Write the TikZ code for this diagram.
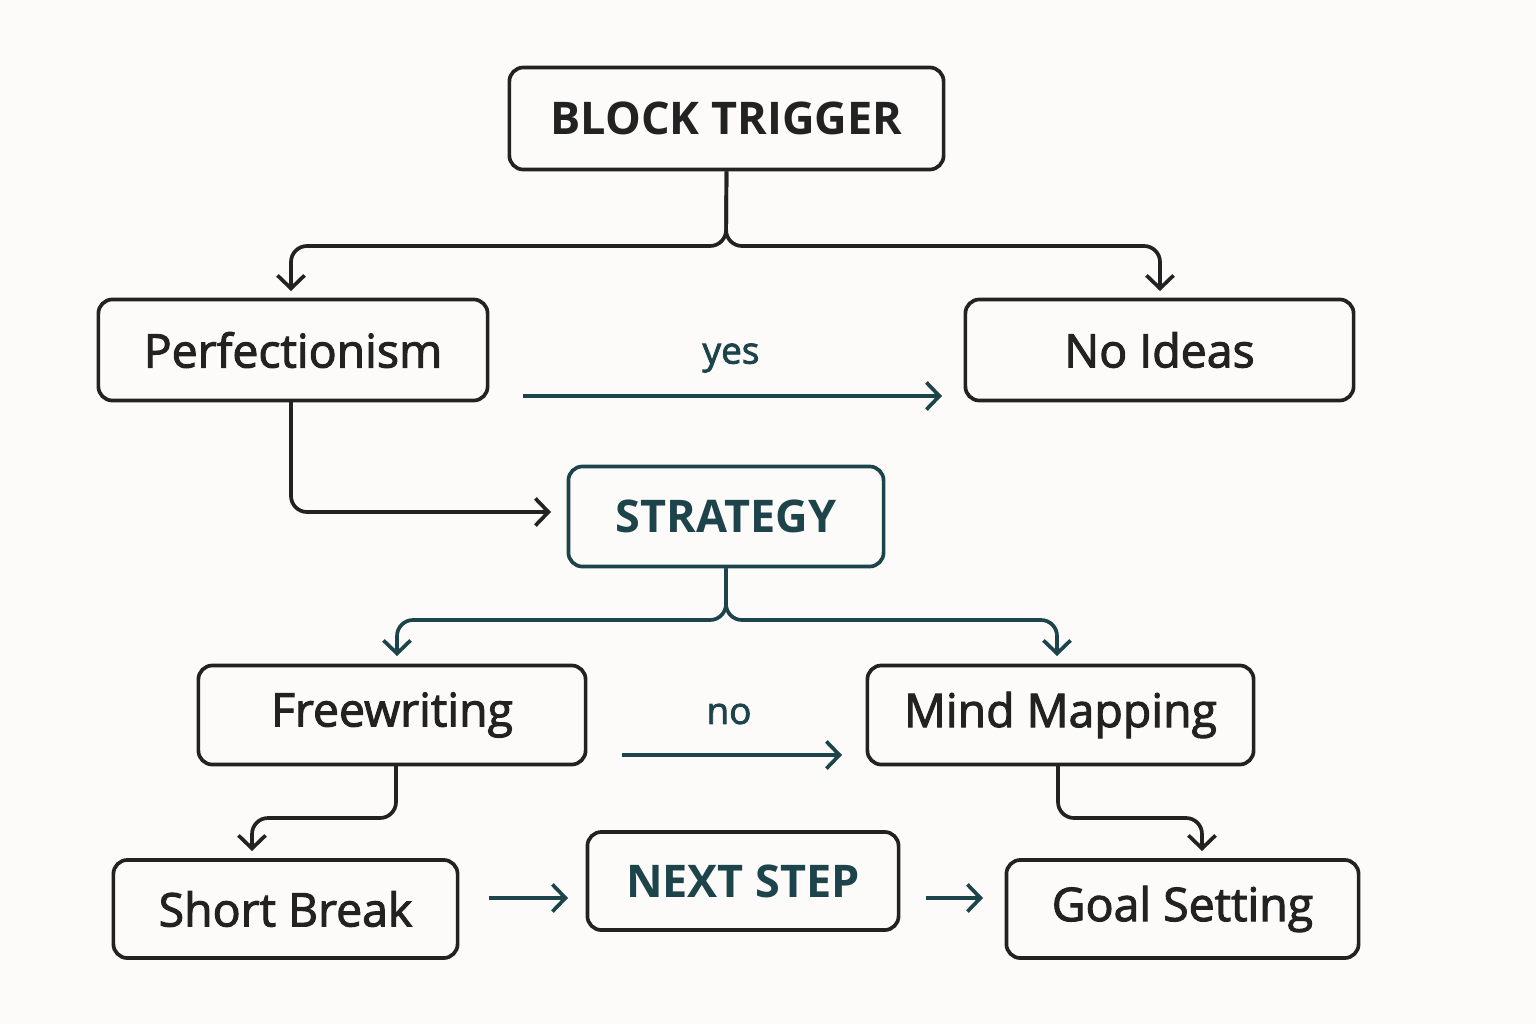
\documentclass[tikz,border=0pt]{standalone}
\usepackage{fontspec}
\setmainfont{Open Sans}
\newfontfamily\medfont{Open Sans}[FakeBold=2.2]
\usetikzlibrary{arrows.meta}
\definecolor{bg}{HTML}{FCFBF9}
\definecolor{ink}{HTML}{222222}
\definecolor{teal}{HTML}{1D434B}
\tikzset{
  box/.style={draw=ink, line width=1.05pt, rounded corners=0.14cm, fill=bg, inner sep=0pt, text=ink, font=\medfont\fontsize{13.2}{15}\selectfont},
  headbox/.style={box, font=\fontsize{12.8}{15}\selectfont\bfseries},
  conn/.style={draw=ink, line width=1.05pt, rounded corners=0.16cm, -{Straight Barb[length=0.13cm, width=0.27cm, line width=1.05pt]}},
  tconn/.style={conn, draw=teal},
  lbl/.style={text=teal, font=\medfont\fontsize{10.5}{12}\selectfont}
}
\begin{document}
\begin{tikzpicture}[x=0.01cm, y=-0.01cm]
\fill[bg] (0,0) rectangle (1536,1024);
\useasboundingbox (0,0) rectangle (1536,1024);

\node[headbox, minimum width=4.34cm, minimum height=1.02cm] (bt) at (726.5,118.5) {BLOCK TRIGGER};
\node[box, minimum width=3.89cm, minimum height=1.01cm] (pf) at (293,350) {Perfectionism};
\node[box, minimum width=3.88cm, minimum height=1.01cm] (ni) at (1159.5,350) {No Ideas};
\node[headbox, draw=teal, text=teal, minimum width=3.15cm, minimum height=1.00cm] (st) at (726,516.5) {STRATEGY};
\node[box, minimum width=3.87cm, minimum height=0.99cm] (fw) at (392,715) {Freewriting};
\node[box, minimum width=3.86cm, minimum height=0.99cm] (mm) at (1060.5,715) {Mind Mapping};
\node[box, minimum width=3.44cm, minimum height=0.98cm] (sb) at (285.5,909) {Short Break};
\node[headbox, text=teal, minimum width=3.11cm, minimum height=0.98cm] (ns) at (743,881) {NEXT STEP};
\node[box, minimum width=3.52cm, minimum height=0.98cm] (gs) at (1182.5,909) {Goal Setting};

% block trigger branches
\coordinate (btj) at (726,246);
\draw[conn] (bt.south) -- (btj) -- (291,246) -- (291,291);
\draw[conn] (bt.south) -- (btj) -- (1160,246) -- (1160,291);

% yes arrow
\coordinate (ya) at (523,396);
\coordinate (yb) at (942,396);
\draw[tconn] (ya) -- (yb);
\node[lbl] (yes) at (731,358) {yes};

% perfectionism to strategy
\coordinate (pfo) at (291,402);
\coordinate (stin) at (551,512);
\draw[conn] (pfo) -- (291,512) -- (stin);

% strategy branches
\coordinate (stj) at (726,620);
\draw[tconn] (st.south) -- (stj) -- (397,620) -- (397,656);
\draw[tconn] (st.south) -- (stj) -- (1057,620) -- (1057,656);

% no arrow
\coordinate (na) at (622,755);
\coordinate (nb) at (842,755);
\draw[tconn] (na) -- (nb);
\node[lbl] (no) at (729,714) {no};

% freewriting to short break
\coordinate (fwo) at (396,765);
\draw[conn] (fwo) -- (396,818) -- (252,818) -- (252,851);
% mind mapping to goal setting
\coordinate (mmo) at (1058,765);
\draw[conn] (mmo) -- (1058,818) -- (1202,818) -- (1202,851);

% bottom row arrows
\coordinate (s1) at (489,898);
\coordinate (s2) at (568,898);
\draw[tconn] (s1) -- (s2);
\coordinate (g1) at (926,898);
\coordinate (g2) at (983,898);
\draw[tconn] (g1) -- (g2);
\end{tikzpicture}
\end{document}
